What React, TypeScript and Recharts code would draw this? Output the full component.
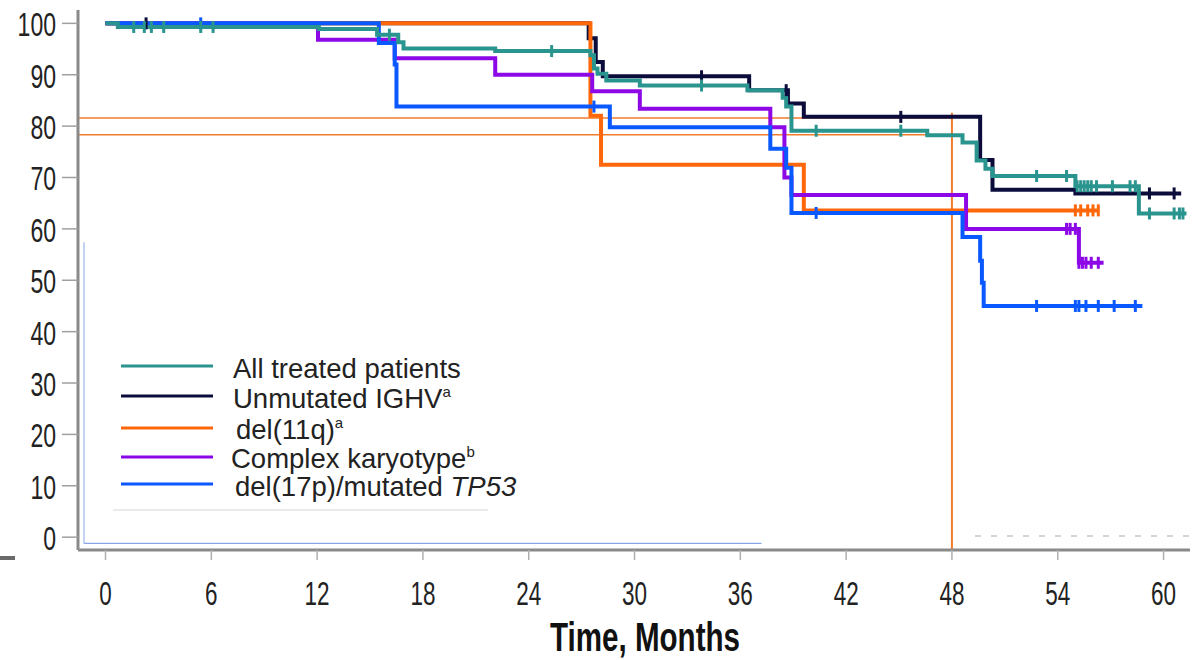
import React from 'react';
import {
  ComposedChart,
  Line,
  Scatter,
  XAxis,
  YAxis,
  ReferenceLine
} from 'recharts';

// axis ticks
const monthTicks = [0, 6, 12, 18, 24, 30, 36, 42, 48, 54, 60];
const pctTicks = [0, 10, 20, 30, 40, 50, 60, 70, 80, 90, 100];

// All treated patients
const allTimes = [0, 0.7, 12.1, 15.4, 16.6, 16.9, 22.1, 27.5, 27.7, 27.9, 28.4, 30.3, 36.4, 38.4, 38.6, 38.9, 46.6, 48.6, 49.4, 49.9, 50.3, 55.0, 58.6, 61.3];
const allSurv = [100, 99.3, 98.9, 97.8, 96.3, 95.1, 94.6, 93.8, 91.2, 90.2, 88.9, 87.9, 87.0, 85.5, 83.8, 79.1, 78.2, 76.8, 73.3, 71.7, 70.3, 68.3, 63.0, 63.0];
const allCensor = [1.6, 2.2, 2.6, 3.3, 5.4, 6.1, 16.1, 25.3, 33.8, 40.3, 45.1, 52.8, 54.5, 55.1, 55.3, 55.5, 55.7, 55.9, 56.2, 57.1, 58.1, 58.4, 59.2, 60.6, 60.9, 61.1];

// Unmutated IGHV
const ighvTimes = [0, 27.4, 27.8, 28.2, 36.5, 38.7, 39.6, 49.6, 50.3, 55.0, 61.0];
const ighvSurv = [100, 97.1, 92.5, 89.7, 87.0, 84.4, 81.8, 73.4, 67.6, 66.9, 66.9];
const ighvCensor = [2.3, 33.8, 38.6, 45.1, 59.2, 60.6];

// del(11q)
const q11Times = [0, 27.5, 28.1, 39.6, 56.3];
const q11Surv = [100, 82.0, 72.5, 63.6, 63.6];
const q11Censor = [55.0, 55.3, 55.7, 56.0, 56.3];

// Complex karyotype
const ckTimes = [0, 12.05, 16.4, 22.1, 27.6, 30.3, 37.7, 38.5, 38.9, 48.8, 55.2, 56.6];
const ckSurv = [100, 96.8, 93.2, 90.0, 86.8, 83.4, 79.8, 70.0, 66.6, 60.0, 53.4, 53.4];
const ckCensor = [54.5, 54.7, 55.0, 55.2, 55.4, 55.6, 55.9, 56.3];

// del(17p)/mutated TP53
const p17Times = [0, 15.5, 16.4, 16.5, 28.6, 37.7, 38.6, 38.9, 48.6, 49.6, 49.7, 49.8, 58.8];
const p17Surv = [100, 96.2, 92.0, 83.8, 79.8, 75.6, 71.9, 63.1, 58.4, 53.8, 49.5, 45.0, 45.0];
const p17Censor = [5.4, 27.7, 40.3, 52.8, 55.0, 55.2, 55.6, 56.3, 57.2, 58.4];

// 48-month reference estimates
const refMonth = 48;
const refLevels = [81.6, 78.3];

const X_DOMAIN: [number, number] = [-1.56, 61.5];
const Y_DOMAIN: [number, number] = [-2.5, 102.6];

const toSteps = (times: number[], surv: number[]) =>
  times.map((t, i) => ({ t, s: surv[i] }));

const toMarks = (times: number[], surv: number[], censor: number[]) =>
  censor.map((c) => {
    let s = surv[0];
    times.forEach((t, i) => {
      if (t <= c) s = surv[i];
    });
    return { t: c, s };
  });

// drawing order: bottom to top
const series = [
  { key: 'ighv', color: '#0c0c3c', times: ighvTimes, surv: ighvSurv, censor: ighvCensor },
  { key: 'q11', color: '#ff680a', times: q11Times, surv: q11Surv, censor: q11Censor },
  { key: 'ck', color: '#8c08e6', times: ckTimes, surv: ckSurv, censor: ckCensor },
  { key: 'p17', color: '#0a58ff', times: p17Times, surv: p17Surv, censor: p17Censor },
  { key: 'all', color: '#2a948e', times: allTimes, surv: allSurv, censor: allCensor }
];

const legendRows = [
  { color: '#2a948e', y: 366, base: 378, x: 233 },
  { color: '#0c0c3c', y: 396, base: 408, x: 233 },
  { color: '#ff680a', y: 428, base: 439, x: 236 },
  { color: '#8c08e6', y: 457, base: 468, x: 231 },
  { color: '#0a58ff', y: 484, base: 496, x: 235 }
];

const CensorMark = (props: any) => {
  const { cx, cy, fill } = props;
  if (cx == null || cy == null) return null;
  return <line x1={cx} x2={cx} y1={cy - 6} y2={cy + 6} stroke={fill} strokeWidth={3} />;
};

const YTick = (props: any) => {
  const { x, y, payload } = props;
  const s = String(payload.value);
  return (
    <text
      x={x}
      y={y + 13}
      textAnchor="end"
      fontSize={34}
      fontFamily="Liberation Sans, Arial, sans-serif"
      fill="#222"
      textLength={s.length * 12.8}
      lengthAdjust="spacingAndGlyphs"
    >
      {s}
    </text>
  );
};

const XTick = (props: any) => {
  const { x, y, payload } = props;
  const s = String(payload.value);
  return (
    <text
      x={x}
      y={y + 43}
      textAnchor="middle"
      fontSize={34}
      fontFamily="Liberation Sans, Arial, sans-serif"
      fill="#222"
      textLength={s.length * 12.5}
      lengthAdjust="spacingAndGlyphs"
    >
      {s}
    </text>
  );
};

const AxisTitle = () => (
  <text
    x={645}
    y={651}
    textAnchor="middle"
    fontSize={40}
    fontWeight="bold"
    fontFamily="Liberation Sans, Arial, sans-serif"
    fill="#111"
    textLength={190}
    lengthAdjust="spacingAndGlyphs"
  >
    Time, Months
  </text>
);

const legendText: React.CSSProperties = {
  fontSize: 27.5,
  fontFamily: 'Liberation Sans, Arial, sans-serif'
};

export default function App() {
  return (
    <div style={{ position: 'absolute', left: 0, top: 0, width: 1203, height: 660, background: '#fff' }}>
      <ComposedChart width={1203} height={660} margin={{ top: 10, right: 13, bottom: 0, left: 0 }}>
        <XAxis
          type="number"
          dataKey="t"
          domain={X_DOMAIN}
          ticks={monthTicks}
          allowDataOverflow
          height={110}
          axisLine={{ stroke: '#8a8a8a', strokeWidth: 3 }}
          tickLine={{ stroke: '#b0b0b0', strokeWidth: 1.5 }}
          tickSize={10}
          tickMargin={2}
          tick={<XTick />}
          label={<AxisTitle />}
        />
        <YAxis
          type="number"
          dataKey="s"
          domain={Y_DOMAIN}
          ticks={pctTicks}
          allowDataOverflow
          width={78}
          axisLine={{ stroke: '#8a8a8a', strokeWidth: 3 }}
          tickLine={{ stroke: '#a0a0a0', strokeWidth: 1.5 }}
          tickSize={16}
          tickMargin={6}
          tick={<YTick />}
        />
        {/* faint scan artefacts */}
        <ReferenceLine
          segment={[{ x: -1.22, y: 57.4 }, { x: -1.22, y: -1.2 }]}
          stroke="#8aa6e6"
          strokeWidth={1}
        />
        <ReferenceLine
          segment={[{ x: -1.22, y: -1.2 }, { x: 37.2, y: -1.2 }]}
          stroke="#8aa6e6"
          strokeWidth={1.2}
        />
        {refLevels.map((lv) => (
          <ReferenceLine
            key={lv}
            segment={[{ x: X_DOMAIN[0], y: lv }, { x: refMonth, y: lv }]}
            stroke="#f07d2c"
            strokeWidth={1.5}
          />
        ))}
        <ReferenceLine
          segment={[{ x: refMonth, y: Y_DOMAIN[0] }, { x: refMonth, y: 82.6 }]}
          stroke="#f07d2c"
          strokeWidth={2}
        />
        {series.map((sr) => (
          <Line
            key={sr.key}
            data={toSteps(sr.times, sr.surv)}
            dataKey="s"
            type="stepAfter"
            stroke={sr.color}
            strokeWidth={4}
            dot={false}
            activeDot={false}
            isAnimationActive={false}
          />
        ))}
        {series.map((sr) => (
          <Scatter
            key={sr.key + '-c'}
            data={toMarks(sr.times, sr.surv, sr.censor)}
            dataKey="s"
            fill={sr.color}
            shape={<CensorMark />}
            isAnimationActive={false}
          />
        ))}
      </ComposedChart>

      <svg
        width={1203}
        height={660}
        style={{ position: 'absolute', left: 0, top: 0, pointerEvents: 'none' }}
      >
        {legendRows.map((r) => (
          <line key={r.y} x1={121} x2={213} y1={r.y} y2={r.y} stroke={r.color} strokeWidth={3} />
        ))}
        <text x={legendRows[0].x} y={legendRows[0].base} fill="#222" style={legendText}>
          All treated patients
        </text>
        <text x={legendRows[1].x} y={legendRows[1].base} fill="#222" style={legendText}>
          Unmutated IGHV
          <tspan fontSize={15} dy={-11}>a</tspan>
        </text>
        <text x={legendRows[2].x} y={legendRows[2].base} fill="#222" style={legendText}>
          del(11q)
          <tspan fontSize={15} dy={-11}>a</tspan>
        </text>
        <text x={legendRows[3].x} y={legendRows[3].base} fill="#222" style={legendText}>
          Complex karyotype
          <tspan fontSize={15} dy={-11}>b</tspan>
        </text>
        <text x={legendRows[4].x} y={legendRows[4].base} fill="#222" style={legendText}>
          del(17p)/mutated <tspan fontStyle="italic">TP53</tspan>
        </text>
        <line x1={113} x2={488} y1={510} y2={510} stroke="#d6d6d6" strokeWidth={1} />
        <line x1={975} x2={1190} y1={536} y2={536} stroke="#c8c8c8" strokeWidth={1.5} strokeDasharray="6 10" />
        <rect x={0} y={556} width={15} height={4} fill="#6a6a6a" />
      </svg>
    </div>
  );
}
